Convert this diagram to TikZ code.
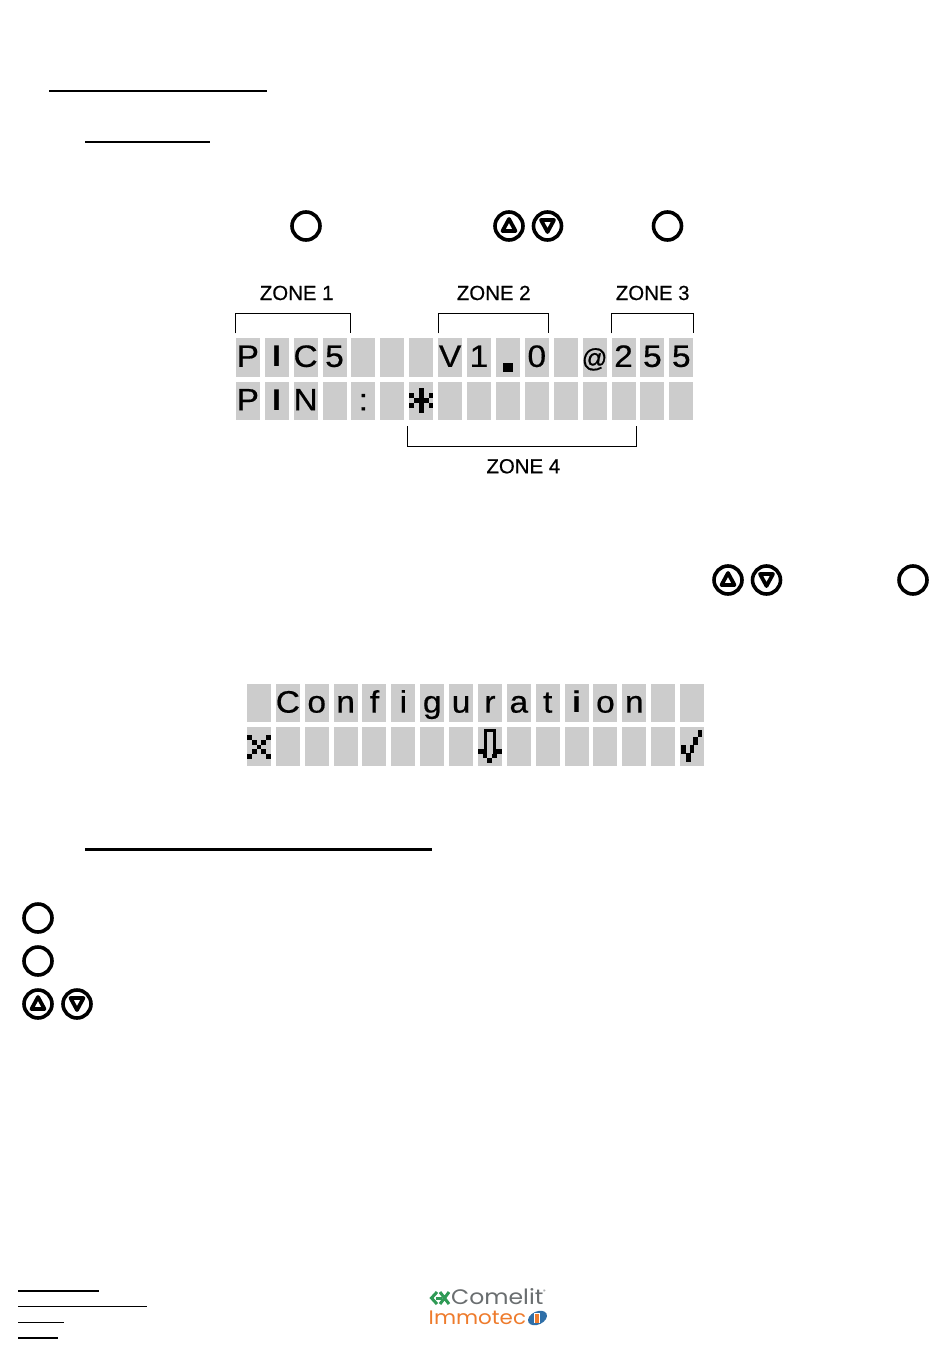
\documentclass[tikz,border=0pt]{standalone}
\usepackage{fontspec}
\setmainfont{Liberation Sans}
\newfontfamily\logofont{Poppins}
\newfontfamily\lcdfont{Liberation Sans}[RawFeature={embolden=0.5}]
\definecolor{lcdgrey}{HTML}{CCCCCC}
\definecolor{logogreen}{HTML}{2F9A55}
\definecolor{logogrey}{HTML}{6A6E70}
\definecolor{logoorange}{HTML}{EE7B2C}
\definecolor{logoblue}{HTML}{2F6FA8}
\tikzset{
  cellbox/.style={rectangle,fill=lcdgrey,draw=none,minimum width=24pt,minimum height=38.5pt,inner sep=0pt,outer sep=0pt},
  lcdtext/.style={anchor=base,inner sep=0pt,outer sep=0pt,xscale=1.08,font=\lcdfont\fontsize{31}{31}\selectfont,text=black},
  zonetext/.style={anchor=base,inner sep=0pt,outer sep=0pt,font=\lcdfont\fontsize{20.4}{22}\selectfont,text=black},
  bracket/.style={draw=black,line width=1pt},
  rulestroke/.style={draw=black,line width=2.2pt},
  thinrule/.style={draw=black,line width=1.5pt},
  btncircle/.style={circle,draw=black,line width=3.6pt,minimum size=28pt,inner sep=0pt,fill=white},
  tristroke/.style={draw=black,line width=3.8pt,line join=round},
  upbtn/.pic={\node[btncircle] {};\draw[tristroke] (-6.5,5)--(0,-7)--(6.5,5)--cycle;},
  downbtn/.pic={\node[btncircle] {};\draw[tristroke] (-6.5,-6)--(0,6)--(6.5,-6)--cycle;},
}
% filled dot of an LCD glyph: origin x, origin y, column, row
\newcommand{\lcdpx}[5]{\fill[black] ({#1+#3*#5},{#2+#4*#5}) rectangle ({#1+#3*#5+#5},{#2+#4*#5+#5});}
\begin{document}
\begin{tikzpicture}[x=1pt,y=-1pt]
\useasboundingbox (0,0) rectangle (950,1370);
\fill[white] (0,0) rectangle (950,1370);

% heading rules
\draw[rulestroke] (49,90.7) -- (267,90.7);
\draw[rulestroke] (85,142) -- (210,142);
\draw[rulestroke] (85,849.5) -- (432,849.5);

% buttons, first line
\node[btncircle] (ok1) at (306,226) {};
\pic at (509,226) {upbtn};
\pic at (547.5,226) {downbtn};
\node[btncircle] (ok2) at (667.5,226) {};

% first display
\foreach \i in {0,...,15}{
  \node[cellbox] (ua\i) at ({247.8+\i*28.9},357.5) {};
  \node[cellbox] (la\i) at ({247.8+\i*28.9},400.8) {};
}
\foreach \i/\c in {0/P,2/C,3/5,7/V,8/1,10/0,13/2,14/5,15/5}{
  \node[lcdtext] (uat\i) at ({247.8+\i*28.9},366.9) {\c};
}
\node[lcdtext,font=\bfseries\fontsize{30}{30}\selectfont] (uat1) at ({247.8+1*28.9},366.7) {I};
\node[lcdtext,xscale=0.9,font=\lcdfont\fontsize{26}{26}\selectfont] (uat12) at ({247.8+12*28.9},367) {@};
\foreach \i/\c in {0/P,2/N,4/:}{
  \node[lcdtext] (lat\i) at ({247.8+\i*28.9},410.4) {\c};
}
\node[lcdtext,font=\bfseries\fontsize{30}{30}\selectfont] (lat1) at ({247.8+1*28.9},410.2) {I};
\fill[black] (503.3,362.7) rectangle (513.3,371.7);
% star glyph
\foreach \c/\r in {0/1,0/3,1/2,2/0,2/1,2/2,2/3,2/4,3/2,4/1,4/3}{\lcdpx{409.2}{388.4}{\c}{\r}{4.85}}

% zone brackets
\draw[bracket] (235.5,333.3) -- (235.5,313.5) -- (350.5,313.5) -- (350.5,333.3);
\draw[bracket] (438.5,333.3) -- (438.5,313.5) -- (548.5,313.5) -- (548.5,333.3);
\draw[bracket] (611.5,333.3) -- (611.5,313.5) -- (693.5,313.5) -- (693.5,333.3);
\draw[bracket] (407.5,426) -- (407.5,446) -- (636.5,446) -- (636.5,426);
\node[zonetext] (z1) at (296.7,300) {ZONE 1};
\node[zonetext] (z2) at (493.7,300) {ZONE 2};
\node[zonetext] (z3) at (652.7,300) {ZONE 3};
\node[zonetext] (z4) at (523.3,473.3) {ZONE 4};

% buttons, second line
\pic at (728,580) {upbtn};
\pic at (766.5,580) {downbtn};
\node[btncircle] (ok3) at (913,580) {};

% second display
\foreach \i in {0,...,15}{
  \node[cellbox] (ub\i) at ({259+\i*28.87},703.2) {};
  \node[cellbox] (lb\i) at ({259+\i*28.87},746.5) {};
}
\foreach \i/\c in {1/C,2/o,3/n,4/f,5/i,6/g,7/u,8/r,9/a,10/t,12/o,13/n}{
  \node[lcdtext] (ubt\i) at ({259+\i*28.87},712.6) {\c};
}
\node[lcdtext,font=\bfseries\fontsize{30}{30}\selectfont] (ubt11) at ({259+11*28.87},712.6) {i};
% cross glyph
\foreach \c/\r in {0/0,0/4,1/1,1/3,2/2,3/1,3/3,4/0,4/4}{\lcdpx{247}{735}{\c}{\r}{4.8}}
% down arrow glyph
\fill[black] (484,729.3) rectangle (496,731.7);
\fill[black] (484,729.3) rectangle (486.7,749);
\fill[black] (493.3,729.3) rectangle (496,749);
\fill[black] (478.3,749) rectangle (486.7,753.7);
\fill[black] (493.3,749) rectangle (501.7,753.7);
\fill[black] (482.7,753.7) rectangle (487.3,758.3);
\fill[black] (492,753.7) rectangle (496.7,758.3);
\fill[black] (487.3,758.3) rectangle (492,763.3);
% tick glyph
\fill[black] (698,730) rectangle (702.3,737.3);
\fill[black] (693.3,737.3) rectangle (698,745);
\fill[black] (690,745) rectangle (693.6,753);
\fill[black] (686,753) rectangle (690.6,761.7);
\fill[black] (681.3,745) rectangle (686,754);

% key
\node[btncircle] (ok4) at (38,918) {};
\node[btncircle] (ok5) at (38,961) {};
\pic at (38,1004) {upbtn};
\pic at (77,1004) {downbtn};

% footer rules
\draw[thinrule] (18,1291) -- (99,1291);
\draw[thinrule] (18,1306.5) -- (146.5,1306.5);
\draw[thinrule] (18,1322.5) -- (64,1322.5);
\draw[thinrule] (18,1338) -- (58,1338);

% logo
\draw[logogreen,line width=3pt] (437,1292) -- (431.5,1298) -- (437,1304);
\draw[logogreen,line width=3pt] (440,1292) -- (449,1304) (449,1292) -- (440,1304);
\draw[logogreen,line width=3pt] (436,1298) -- (442,1298);
\node[anchor=base west,inner sep=0pt,text=logogrey,xscale=1.12,font=\logofont\fontsize{21}{21}\selectfont] (comelit) at (451,1304) {Comelit};
\node[anchor=base west,inner sep=0pt,text=logogrey,font=\logofont\fontsize{5}{5}\selectfont] (reg) at (543,1293) {®};
\node[anchor=base west,inner sep=0pt,text=logoorange,xscale=1.1,font=\logofont\fontsize{19.5}{20}\selectfont] (immotec) at (428.5,1324) {Immotec};
\fill[logoblue,rotate around={25:(537.5,1318)}] (537.5,1318) ellipse (10pt and 6.5pt);
\fill[white] (533.5,1313) rectangle (540,1323);
\fill[logoorange] (535,1314) rectangle (538.5,1323);
\end{tikzpicture}
\end{document}
